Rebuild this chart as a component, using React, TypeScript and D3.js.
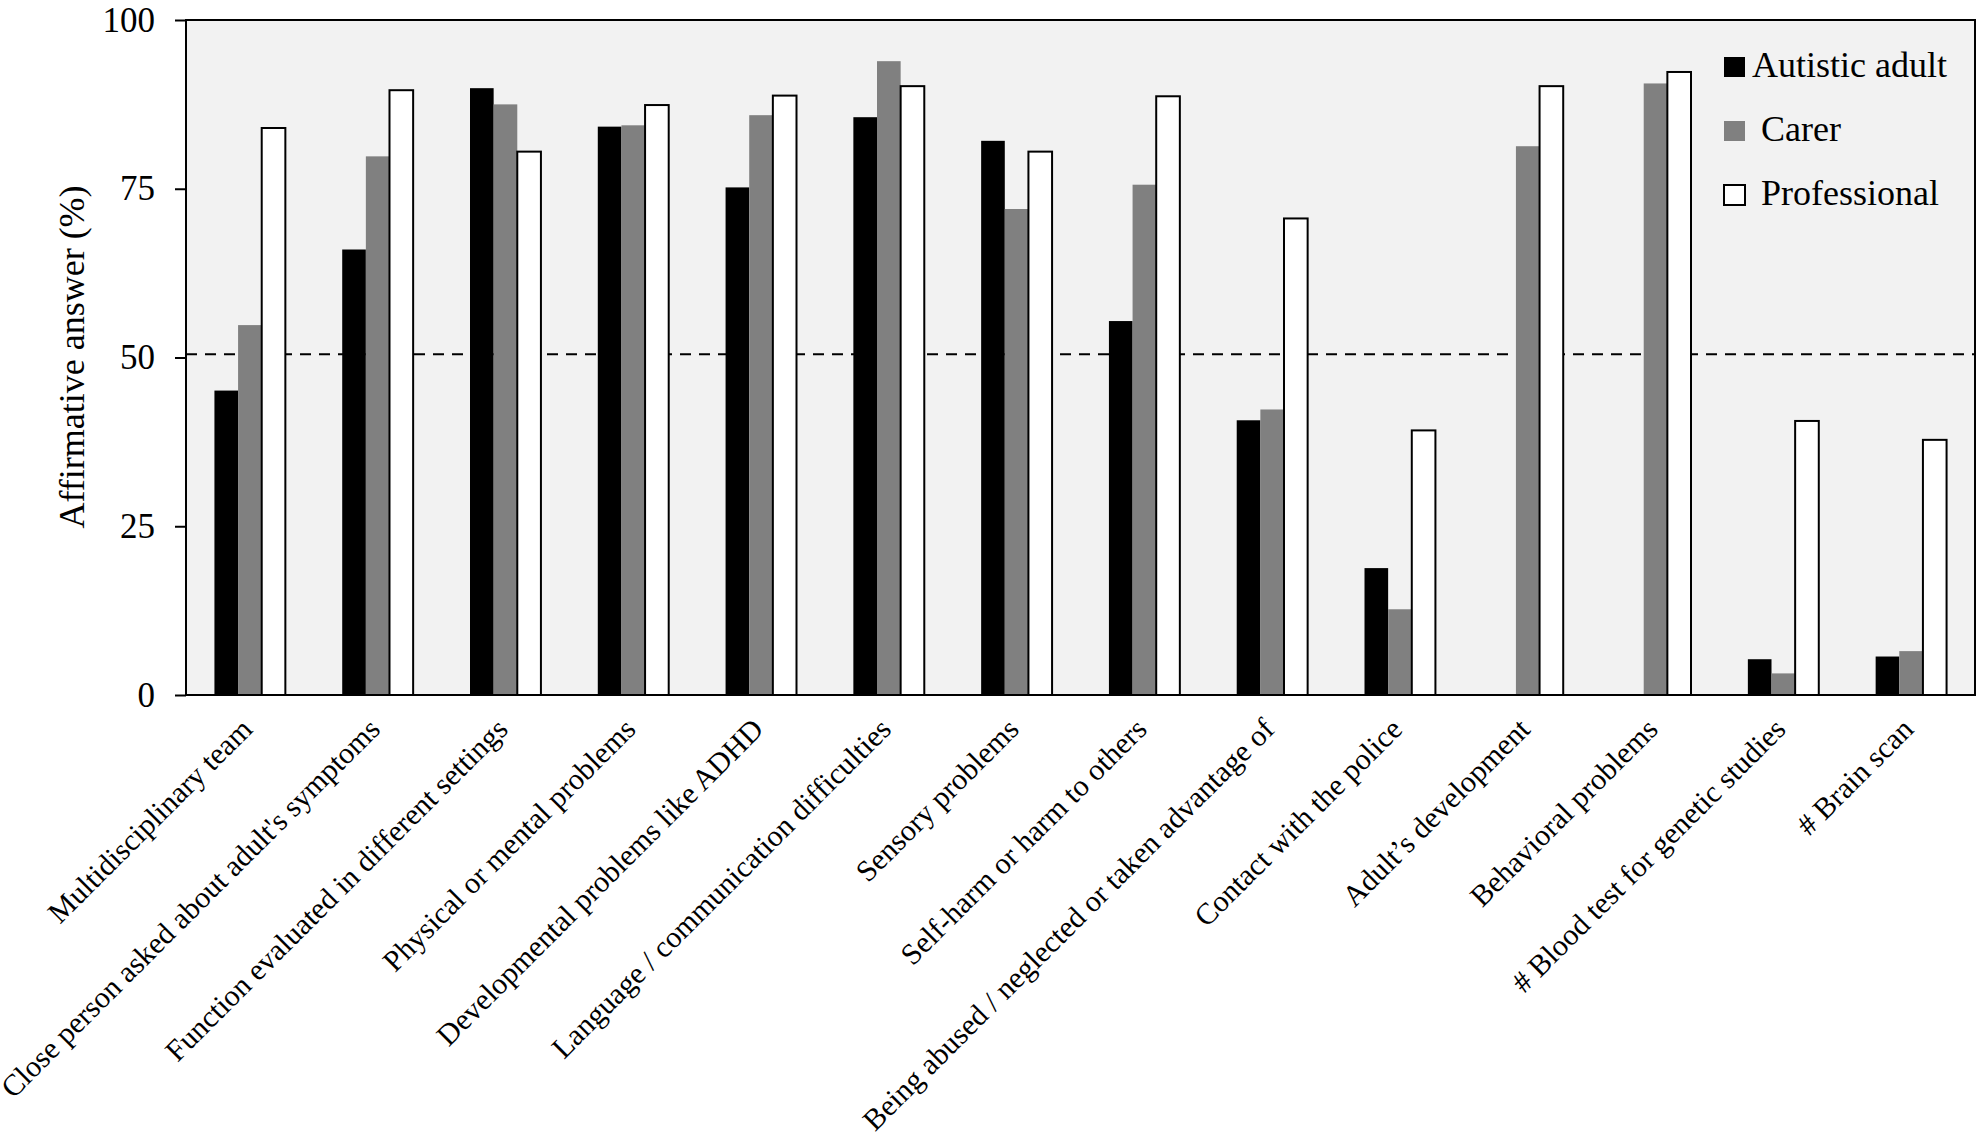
import { useEffect, useRef } from "react";
import * as d3 from "d3";

const categories = [
  "Multidisciplinary team",
  "Close person asked about adult's symptoms",
  "Function evaluated in different settings",
  "Physical or mental problems",
  "Developmental problems like ADHD",
  "Language / communication difficulties",
  "Sensory problems",
  "Self-harm or harm to others",
  "Being abused / neglected or taken advantage of",
  "Contact with the police",
  "Adult’s development",
  "Behavioral problems",
  "# Blood test for genetic studies",
  "# Brain scan",
];

const autisticAdult = [45.1, 66.0, 89.9, 84.2, 75.2, 85.6, 82.1, 55.4, 40.7, 18.8, 0, 0, 5.3, 5.7];
const carer = [54.8, 79.8, 87.5, 84.4, 85.9, 93.9, 72.0, 75.6, 42.3, 12.7, 81.3, 90.6, 3.2, 6.5];
const professional = [84.0, 89.6, 80.5, 87.4, 88.8, 90.2, 80.5, 88.7, 70.6, 39.2, 90.2, 92.3, 40.6, 37.8];

const seriesNames = ["Autistic adult", "Carer", "Professional"];
const yTicks = [0, 25, 50, 75, 100];
const thresholdValue = 50.5;

const WIDTH = 1977;
const HEIGHT = 1141;
const FONT = "'Liberation Serif', 'Times New Roman', serif";

const App = () => {
  const ref = useRef<SVGSVGElement>(null);

  useEffect(() => {
    document.body.style.margin = "0";
    if (!ref.current) return;
    const svg = d3.select(ref.current);
    svg.selectAll("*").remove();

    const left = 186;
    const right = 1975;
    const top = 20;
    const bottom = 695;

    const fills = ["#000000", "#808080", "#ffffff"];
    const values = [autisticAdult, carer, professional];

    const x = d3.scaleBand<string>().domain(categories).range([left, right]);
    const groupW = x.bandwidth() * 0.555;
    const xSub = d3
      .scaleBand<string>()
      .domain(seriesNames)
      .range([(x.bandwidth() - groupW) / 2, (x.bandwidth() + groupW) / 2]);
    const y = d3.scaleLinear().domain([0, 100]).range([bottom, top]);

    // plot background
    svg
      .append("rect")
      .attr("x", left)
      .attr("y", top)
      .attr("width", right - left)
      .attr("height", bottom - top)
      .attr("fill", "#f2f2f2");

    // dashed 50% line
    svg
      .append("line")
      .attr("x1", left)
      .attr("x2", right)
      .attr("y1", y(thresholdValue))
      .attr("y2", y(thresholdValue))
      .attr("stroke", "#000")
      .attr("stroke-width", 2)
      .attr("stroke-dasharray", "11,8");

    // bars
    const groups = svg
      .append("g")
      .selectAll("g")
      .data(categories)
      .join("g")
      .attr("transform", (d) => `translate(${x(d)},0)`);

    groups
      .selectAll("rect")
      .data((_d, i) => seriesNames.map((s, k) => ({ s, k, v: values[k][i] })))
      .join("rect")
      .filter((d) => d.v > 0)
      .attr("x", (d) => xSub(d.s)!)
      .attr("width", xSub.bandwidth())
      .attr("y", (d) => y(d.v))
      .attr("height", (d) => y(0) - y(d.v))
      .attr("fill", (d) => fills[d.k])
      .attr("stroke", (d) => (d.k === 2 ? "#000" : "none"))
      .attr("stroke-width", 2);

    // frame
    svg
      .append("rect")
      .attr("x", left)
      .attr("y", top)
      .attr("width", right - left)
      .attr("height", bottom - top)
      .attr("fill", "none")
      .attr("stroke", "#000")
      .attr("stroke-width", 2);

    // y axis
    const yAxis = svg
      .append("g")
      .attr("transform", `translate(${left},0)`)
      .call(d3.axisLeft(y).tickValues(yTicks).tickSize(11).tickPadding(20));
    yAxis.select(".domain").remove();
    yAxis.selectAll("line").attr("stroke", "#000").attr("stroke-width", 2);
    yAxis
      .selectAll("text")
      .attr("font-family", FONT)
      .attr("font-size", 35)
      .attr("fill", "#000");

    // y title
    svg
      .append("text")
      .attr("transform", `translate(84,357) rotate(-90)`)
      .attr("text-anchor", "middle")
      .attr("font-family", FONT)
      .attr("font-size", 36)
      .text("Affirmative answer (%)");

    // category labels
    svg
      .append("g")
      .selectAll("text")
      .data(categories)
      .join("text")
      .attr(
        "transform",
        (d) => `translate(${x(d)! + x.bandwidth() / 2 + 4},731) rotate(-45)`,
      )
      .attr("text-anchor", "end")
      .attr("font-family", FONT)
      .attr("font-size", 30)
      .text((d) => d);

    // legend
    const legend = svg
      .append("g")
      .selectAll("g")
      .data(seriesNames)
      .join("g")
      .attr("transform", (_d, i) => `translate(1724,${77 + i * 64})`);
    legend
      .append("rect")
      .attr("x", 0)
      .attr("y", -20)
      .attr("width", 21)
      .attr("height", 20)
      .attr("fill", (_d, i) => fills[i])
      .attr("stroke", (_d, i) => (i === 2 ? "#000" : "none"))
      .attr("stroke-width", 2);
    legend
      .append("text")
      .attr("x", (_d, i) => (i === 0 ? 28 : 37))
      .attr("y", 0)
      .attr("font-family", FONT)
      .attr("font-size", 36)
      .text((d) => d);
  }, []);

  return (
    <svg
      ref={ref}
      width={WIDTH}
      height={HEIGHT}
      style={{ display: "block", background: "#fff" }}
    />
  );
};

export default App;
